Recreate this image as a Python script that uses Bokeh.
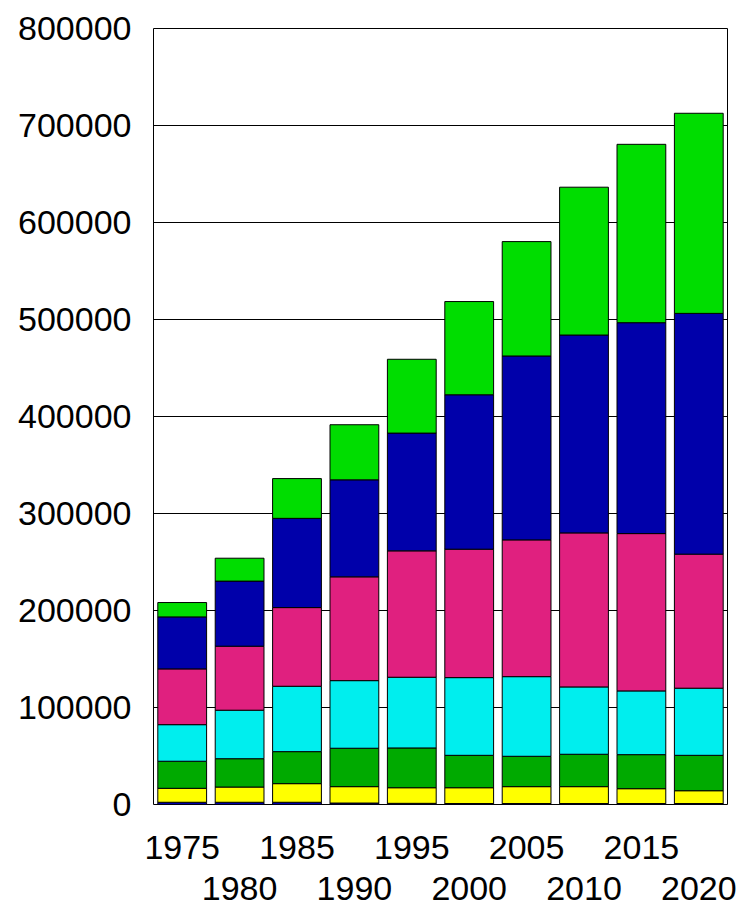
from bokeh.plotting import figure
from bokeh.models import ColumnDataSource, FixedTicker, LinearAxis, BasicTickFormatter, Range1d
from bokeh.embed import file_html
from bokeh.resources import INLINE

years = ["1975", "1980", "1985", "1990", "1995", "2000", "2005", "2010", "2015", "2020"]
s_dkblue = [2300, 2300, 2300, 1500, 1200, 1000, 1000, 1000, 1000, 1000]
s_yellow = [14400, 15700, 19200, 16900, 16100, 16300, 17400, 17400, 15300, 13200]
s_dkgreen = [27900, 29200, 33000, 39600, 41000, 33400, 31300, 33400, 35100, 36500]
s_cyan = [37700, 50000, 67400, 69700, 72900, 80100, 82100, 69400, 65700, 69200]
s_magenta = [57500, 66000, 81100, 107000, 130300, 132400, 141000, 158800, 162200, 138200]
s_blue = [53600, 67100, 92000, 100000, 121400, 159200, 189600, 204000, 217400, 248200]
s_green = [14800, 23600, 41000, 56800, 76100, 96100, 117900, 152400, 183900, 206300]
y_ticks = [0, 100000, 200000, 300000, 400000, 500000, 600000, 700000, 800000]

keys = ["dkblue", "yellow", "dkgreen", "cyan", "magenta", "blue", "green"]
colors = ["#0000AA", "#FFFF00", "#00AA00", "#00EEEE", "#E0207F", "#0000AA", "#00DD00"]

xs = list(range(len(years)))
src = ColumnDataSource(dict(x=xs, dkblue=s_dkblue, yellow=s_yellow, dkgreen=s_dkgreen,
                            cyan=s_cyan, magenta=s_magenta, blue=s_blue, green=s_green))

FONT = "Liberation Sans"
FS = "34px"

p = figure(width=743, height=905, output_backend="svg", toolbar_location=None,
           x_range=Range1d(-0.5, 9.5), y_range=Range1d(0, 800000),
           x_axis_location=None, min_border_left=153, min_border_top=28,
           min_border_right=16, min_border_bottom=101)
p.vbar_stack(keys, x="x", width=0.85, source=src, fill_color=colors,
             line_color="black", line_width=1)

p.xgrid.visible = False
p.ygrid.ticker = FixedTicker(ticks=y_ticks)
p.ygrid.grid_line_color = "black"
p.ygrid.grid_line_width = 1
p.outline_line_color = "black"
p.outline_line_width = 1

ya = p.yaxis[0]
ya.ticker = FixedTicker(ticks=y_ticks)
ya.formatter = BasicTickFormatter(use_scientific=False)
ya.axis_line_color = None
ya.major_tick_line_color = None
ya.minor_tick_line_color = None
ya.major_tick_out = 0
ya.major_label_standoff = 22
ya.major_label_text_font = FONT
ya.major_label_text_font_size = FS
ya.major_label_text_color = "black"

for i, (idx, standoff) in enumerate([([0, 2, 4, 6, 8], 31), ([1, 3, 5, 7, 9], 15)]):
    ax = LinearAxis(ticker=FixedTicker(ticks=idx),
                    major_label_overrides={k: years[k] for k in idx})
    ax.axis_line_color = None
    ax.major_tick_line_color = None
    ax.minor_tick_line_color = None
    ax.major_tick_out = 0
    ax.major_tick_in = 0
    ax.major_label_standoff = standoff
    ax.major_label_text_font = FONT
    ax.major_label_text_font_size = FS
    ax.major_label_text_color = "black"
    p.add_layout(ax, "below")

open("out.html", "w").write(file_html(p, INLINE))
